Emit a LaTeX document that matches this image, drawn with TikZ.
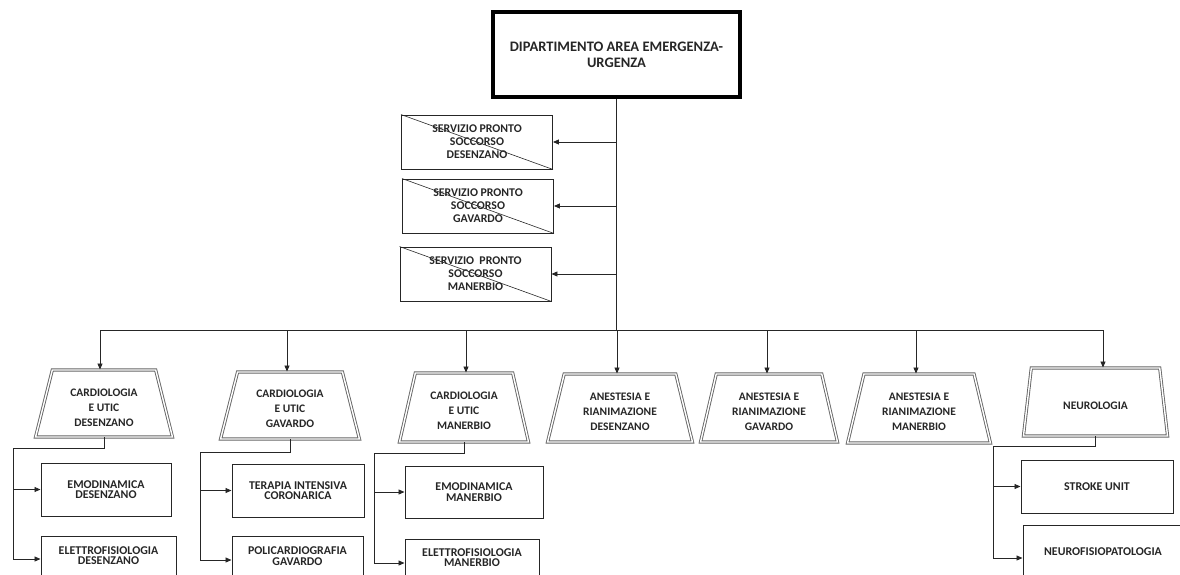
\documentclass[tikz,border=0pt]{standalone}
\usepackage{fontspec}
\setmainfont{Carlito}
\usetikzlibrary{shapes.geometric,arrows.meta}
\newcommand\lowtxt[2]{\raisebox{-#1}[\height][\depth]{\begin{tabular}{@{}c@{}}#2\end{tabular}}}
\begin{document}
\begin{tikzpicture}[x=1pt,y=-1pt,
  conn/.style={draw=black!85, line width=0.9pt},
  arr/.style={conn, -{Triangle[length=6pt,width=5pt]}},
  trap/.style={trapezium, trapezium angle=76.5, trapezium stretches=true,
    draw=black!60, line width=0.9pt, double=white, double distance=1.4pt,
    align=center, inner sep=1pt, text=black!85,
    font=\bfseries\fontsize{11.5}{15}\selectfont},
  spbox/.style={draw=black!85, line width=0.9pt, align=center, inner sep=0pt,
    minimum width=151pt, minimum height=54pt, text=black!85,
    font=\bfseries\fontsize{11.8}{13}\selectfont},
  subbox/.style={draw=black!85, line width=1pt, align=center, inner sep=0pt,
    text=black!85, font=\bfseries\fontsize{11.9}{10.5}\selectfont},
  subtxt/.style={align=center, inner sep=0pt, text=black!85,
    font=\bfseries\fontsize{11.9}{10.5}\selectfont},
  ]
\useasboundingbox (0,0) rectangle (1180,575);
\clip (0,0) rectangle (1180,575);

% top box
\node[draw=black, line width=4pt, minimum width=247pt, minimum height=85pt,
  align=center, inner sep=0pt, text=black!85,
  font=\bfseries\fontsize{14.5}{16}\selectfont] (top) at (616.5,54.5)
  {DIPARTIMENTO AREA EMERGENZA-\\URGENZA};

% pronto soccorso boxes
\node[spbox] (sp1) at (477,142) {SERVIZIO PRONTO\\SOCCORSO\\DESENZANO};
\node[spbox] (sp2) at (478,206) {SERVIZIO PRONTO\\SOCCORSO\\GAVARDO};
\node[spbox] (sp3) at (475.5,274) {SERVIZIO\hspace{0.45em}PRONTO\\SOCCORSO\\MANERBIO};
\foreach \s in {sp1,sp2,sp3}
  \draw[conn, line width=0.6pt] (\s.north west) -- (\s.south east);

% trunk and bus
\coordinate (bus) at (616.5,330);
\draw[conn] (top.south) -- (bus);
\foreach \s in {sp1,sp2,sp3}
  \draw[arr] (top.south |- \s.east) -- (\s.east);
\coordinate (b1) at (100,330);
\coordinate (b7) at (1103,330);
\draw[conn] (b1) -- (b7);

% trapezia
\node[trap, minimum width=138pt, minimum height=67pt] (t1) at (104,403.5) {\lowtxt{5pt}{CARDIOLOGIA\\E UTIC\\DESENZANO}};
\node[trap, minimum width=140pt, minimum height=67pt] (t2) at (290,405.5) {\lowtxt{4pt}{CARDIOLOGIA\\E UTIC\\GAVARDO}};
\node[trap, minimum width=130pt, minimum height=69pt] (t3) at (464,407.5) {\lowtxt{4pt}{CARDIOLOGIA\\E UTIC\\MANERBIO}};
\node[trap, minimum width=146pt, minimum height=68pt] (t4) at (620,408) {\lowtxt{4pt}{ANESTESIA E\\RIANIMAZIONE\\DESENZANO}};
\node[trap, minimum width=138pt, minimum height=68pt] (t5) at (769,408) {\lowtxt{4pt}{ANESTESIA E\\RIANIMAZIONE\\GAVARDO}};
\node[trap, minimum width=144pt, minimum height=69pt] (t6) at (919,408.5) {\lowtxt{4pt}{ANESTESIA E\\RIANIMAZIONE\\MANERBIO}};
\node[trap, minimum width=145pt, minimum height=68pt] (t7) at (1095.5,402) {\lowtxt{4pt}{NEUROLOGIA}};

\coordinate (b2) at (287,330);
\coordinate (b3) at (466,330);
\coordinate (b4) at (617,330);
\coordinate (b5) at (767,330);
\coordinate (b6) at (916,330);
\foreach \i in {1,...,7}
  \draw[arr] (b\i) -- (b\i |- t\i.north);

% sub boxes
\node[subbox, minimum width=130pt, minimum height=53pt] (e1) at (106,489.5) {EMODINAMICA\\DESENZANO};
\node[subbox, minimum width=135pt, minimum height=54pt] (e2) at (108.5,563) {};
\node[subtxt] (e2t) at (108.5,555.5) {ELETTROFISIOLOGIA\\DESENZANO};

\node[subbox, minimum width=132pt, minimum height=53pt] (g1) at (298,490.5) {TERAPIA INTENSIVA\\CORONARICA};
\node[subbox, minimum width=131pt, minimum height=54pt] (g2) at (297.5,563) {};
\node[subtxt] (g2t) at (297.5,556) {POLICARDIOGRAFIA\\GAVARDO};

\node[subbox, minimum width=138pt, minimum height=52pt] (m1) at (474,492) {EMODINAMICA\\MANERBIO};
\node[subbox, minimum width=134pt, minimum height=54pt] (m2) at (472,566) {};
\node[subtxt] (m2t) at (472,557.5) {ELETTROFISIOLOGIA\\MANERBIO};

\node[subbox, minimum width=152pt, minimum height=53pt] (n1) at (1097,486.5) {STROKE UNIT};
\node[subbox, minimum width=160pt, minimum height=54pt] (n2) at (1103,552) {NEUROFISIOPATOLOGIA};

% sub connectors
\coordinate (c1a) at (13,448);  \coordinate (c1b) at (13,559);
\draw[conn] (t1.south) |- (c1a) -- (c1b);
\draw[arr] (c1a |- e1.west) -- (e1.west);
\draw[arr] (c1b) -- (c1b -| e2.west);

\coordinate (c2a) at (200,452); \coordinate (c2b) at (200,560);
\draw[conn] (t2.south) |- (c2a) -- (c2b);
\draw[arr] (c2a |- g1.west) -- (g1.west);
\draw[arr] (c2b) -- (c2b -| g2.west);

\coordinate (c3a) at (374,453); \coordinate (c3b) at (374,563);
\draw[conn] (t3.south) |- (c3a) -- (c3b);
\draw[arr] (c3a |- m1.west) -- (m1.west);
\draw[arr] (c3b) -- (c3b -| m2.west);

\coordinate (c7a) at (993,446); \coordinate (c7b) at (993,558);
\draw[conn] (t7.south) |- (c7a) -- (c7b);
\draw[arr] (c7a |- n1.west) -- (n1.west);
\draw[arr] (c7b) -- (c7b -| n2.west);
\end{tikzpicture}
\end{document}
